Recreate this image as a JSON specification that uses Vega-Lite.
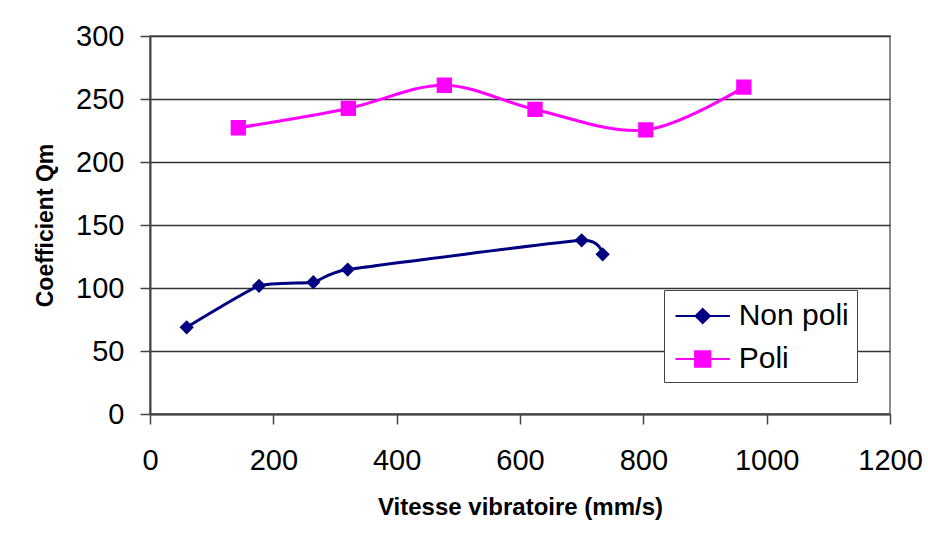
{
  "$schema": "https://vega.github.io/schema/vega-lite/v6.json",
  "width": 740,
  "height": 378,
  "autosize": {"type": "none"},
  "padding": {"left": 150, "top": 36, "right": 38, "bottom": 126},
  "background": "white",
  "config": {
    "font": "Liberation Sans",
    "view": {"stroke": "#8c8c8c", "strokeWidth": 2},
    "legend": {
      "title": null,
      "orient": "none",
      "legendX": 514,
      "legendY": 254,
      "padding": 8,
      "symbolOffset": 12.7,
      "labelOffset": 18,
      "symbolSize": 1156,
      "symbolStrokeWidth": 2,
      "labelFontSize": 30,
      "labelColor": "black",
      "labelFont": "Liberation Sans",
      "rowPadding": 10,
      "strokeColor": "#444",
      "fillColor": "white"
    }
  },
  "data": {
    "values": [
      {"series": "Non poli", "v": 59.5, "q": 68.8},
      {"series": "Non poli", "v": 176.8, "q": 101.7},
      {"series": "Non poli", "v": 264.8, "q": 104.6},
      {"series": "Non poli", "v": 320.6, "q": 114.6},
      {"series": "Non poli", "v": 700, "q": 137.8},
      {"series": "Non poli", "v": 734, "q": 126.7},
      {"series": "Poli", "v": 143.2, "q": 227.2},
      {"series": "Poli", "v": 321.6, "q": 242.5},
      {"series": "Poli", "v": 477.3, "q": 260.9},
      {"series": "Poli", "v": 624.3, "q": 241.7},
      {"series": "Poli", "v": 804, "q": 225.5},
      {"series": "Poli", "v": 963, "q": 259.4}
    ]
  },
  "encoding": {
    "x": {
      "field": "v",
      "type": "quantitative",
      "scale": {"domain": [0, 1200], "nice": false},
      "axis": {
        "title": "Vitesse vibratoire (mm/s)",
        "values": [0, 200, 400, 600, 800, 1000, 1200],
        "format": "d",
        "grid": false,
        "tickSize": 10,
        "tickColor": "#444",
        "tickWidth": 1.5,
        "domainColor": "#444",
        "domainWidth": 2,
        "labelFontSize": 29,
        "labelColor": "black",
        "labelPadding": 22,
        "labelFlush": false,
        "titleFontSize": 24,
        "titleFontWeight": "bold",
        "titleColor": "black",
        "titlePadding": 20
      }
    },
    "y": {
      "field": "q",
      "type": "quantitative",
      "scale": {"domain": [0, 300], "nice": false},
      "axis": {
        "title": "Coefficient Qm",
        "values": [0, 50, 100, 150, 200, 250, 300],
        "format": "d",
        "grid": true,
        "gridColor": "#333",
        "gridWidth": 1.3,
        "tickSize": 10,
        "tickColor": "#444",
        "tickWidth": 1.5,
        "domainColor": "#444",
        "domainWidth": 2,
        "labelFontSize": 29,
        "labelColor": "black",
        "labelPadding": 16,
        "labelFlush": false,
        "titleFontSize": 23,
        "titleFontWeight": "bold",
        "titleColor": "black",
        "titlePadding": 18
      }
    },
    "color": {
      "field": "series",
      "type": "nominal",
      "scale": {"domain": ["Non poli", "Poli"], "range": ["#000080", "#ff00ff"]},
      "legend": {
        "encode": {
          "symbols": {"update": {"stroke": {"scale": "color", "field": "value"}, "strokeWidth": {"value": 2}, "opacity": {"value": 1}}}
        }
      }
    }
  },
  "layer": [
    {
      "transform": [{"filter": "datum.series == 'Non poli'"}],
      "mark": {"type": "line", "interpolate": "cardinal", "tension": 0.55, "strokeWidth": 3}
    },
    {
      "transform": [{"filter": "datum.series == 'Poli'"}],
      "mark": {"type": "line", "interpolate": "catmull-rom", "strokeWidth": 3}
    },
    {
      "mark": {"type": "point", "filled": true, "size": 1156, "opacity": 1},
      "encoding": {
        "shape": {
          "field": "series",
          "type": "nominal",
          "scale": {
            "domain": ["Non poli", "Poli"],
            "range": [
              "M-1.6,0L1.6,0M0,-0.42L0.42,0L0,0.42L-0.42,0Z",
              "M-1.6,0L1.6,0M-0.45,-0.45L0.45,-0.45L0.45,0.45L-0.45,0.45Z"
            ]
          }
        }
      }
    }
  ]
}
